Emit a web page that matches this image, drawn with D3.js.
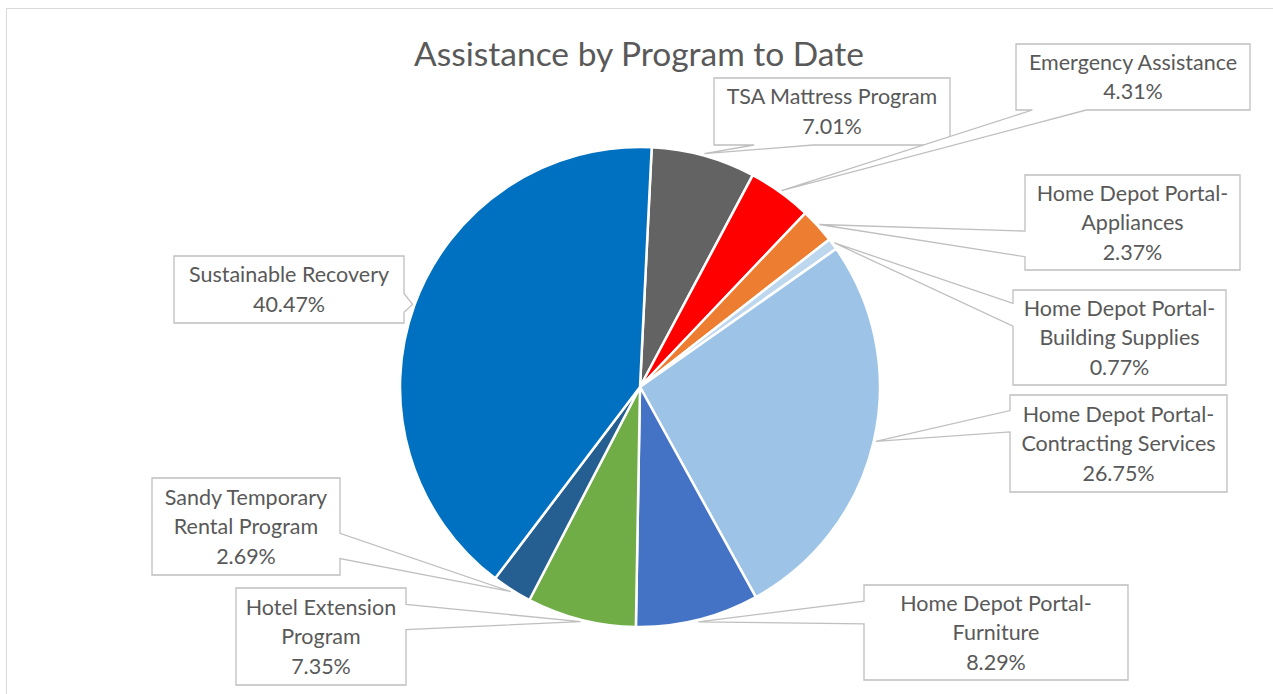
<!DOCTYPE html>
<html>
<head>
<meta charset="utf-8">
<script src="https://cdn.jsdelivr.net/npm/d3@7"></script>
<style>
  html, body { margin: 0; padding: 0; background: #fff; }
  svg { display: block; }
  text { font-family: Lato, "Open Sans", sans-serif; fill: #595959; }
</style>
</head>
<body>
<svg id="chart" width="1273" height="694"></svg>
<script>
// ---------- data ----------
const categories = [
  "TSA Mattress Program",
  "Emergency Assistance",
  "Home Depot Portal-Appliances",
  "Home Depot Portal-Building Supplies",
  "Home Depot Portal-Contracting Services",
  "Home Depot Portal-Furniture",
  "Hotel Extension Program",
  "Sandy Temporary Rental Program",
  "Sustainable Recovery"
];
const values = [7.01, 4.31, 2.37, 0.77, 26.75, 8.29, 7.35, 2.69, 40.47];
const labelLines = [
  ["TSA Mattress Program"],
  ["Emergency Assistance"],
  ["Home Depot Portal-", "Appliances"],
  ["Home Depot Portal-", "Building Supplies"],
  ["Home Depot Portal-", "Contracting Services"],
  ["Home Depot Portal-", "Furniture"],
  ["Hotel Extension", "Program"],
  ["Sandy Temporary", "Rental Program"],
  ["Sustainable Recovery"]
];
const colors = ["#636363", "#ff0000", "#ed7d31", "#bdd7ee", "#9dc3e6",
                "#4472c4", "#70ad47", "#255e91", "#0070c0"];
const title = "Assistance by Program to Date";

// ---------- layout (label boxes: x, y, w, h, side of pointer, pointer base fractions) ----------
const boxes = [
  {x: 714,  y: 78,  w: 236, h: 67, side: "bottom", f0: 0.17, f1: 0.42},
  {x: 1016, y: 44,  w: 234, h: 66, side: "bottom", f0: 0.07, f1: 0.30},
  {x: 1025, y: 175, w: 215, h: 95, side: "left",   f0: 0.59, f1: 0.86},
  {x: 1013, y: 290, w: 213, h: 95, side: "left",   f0: 0.14, f1: 0.38},
  {x: 1010, y: 395, w: 217, h: 97, side: "left",   f0: 0.16, f1: 0.38},
  {x: 864,  y: 585, w: 264, h: 95, side: "left",   f0: 0.17, f1: 0.41},
  {x: 236,  y: 588, w: 170, h: 97, side: "right",  f0: 0.17, f1: 0.43},
  {x: 152,  y: 478, w: 188, h: 97, side: "right",  f0: 0.57, f1: 0.83},
  {x: 174,  y: 256, w: 230, h: 67, side: "right",  f0: 0.56, f1: 0.84}
];

const W = 1273, H = 694;
const cx = 640, cy = 387, R = 240;
const rotation = 2.8 * Math.PI / 180;

const svg = d3.select("#chart");

// chart frame
svg.append("rect")
  .attr("x", 6.5).attr("y", 8.5)
  .attr("width", W + 20).attr("height", H + 20)
  .attr("fill", "none").attr("stroke", "#d9d9d9").attr("stroke-width", 1);

// title
svg.append("text")
  .attr("x", 639).attr("y", 66)
  .attr("text-anchor", "middle")
  .style("font-size", "33.5px")
  .text(title);

const data = categories.map((c, i) => ({name: c, value: values[i], i}));

const pie = d3.pie()
  .value(d => d.value)
  .sort(null)
  .startAngle(rotation)
  .endAngle(rotation + 2 * Math.PI);

const arcs = pie(data);
const arc = d3.arc().innerRadius(0).outerRadius(R);

const g = svg.append("g").attr("transform", `translate(${cx},${cy})`);
g.selectAll("path.slice")
  .data(arcs)
  .enter().append("path")
  .attr("class", "slice")
  .attr("d", arc)
  .attr("fill", d => colors[d.data.i])
  .attr("stroke", "#fff")
  .attr("stroke-width", 2.5)
  .attr("stroke-linejoin", "round");

// callout labels
const fmt = d3.format(".2f");
function calloutPath(b, tx, ty) {
  const {x, y, w, h, side, f0, f1} = b;
  const p = [];
  p.push([x, y]);
  if (side === "top") { p.push([x + f0 * w, y], [tx, ty], [x + f1 * w, y]); }
  p.push([x + w, y]);
  if (side === "right") { p.push([x + w, y + f0 * h], [tx, ty], [x + w, y + f1 * h]); }
  p.push([x + w, y + h]);
  if (side === "bottom") { p.push([x + f1 * w, y + h], [tx, ty], [x + f0 * w, y + h]); }
  p.push([x, y + h]);
  if (side === "left") { p.push([x, y + f1 * h], [tx, ty], [x, y + f0 * h]); }
  return "M" + p.map(q => q[0] + "," + q[1]).join("L") + "Z";
}

const lg = svg.append("g");
arcs.forEach(a => {
  const i = a.data.i;
  const b = boxes[i];
  const mid = (a.startAngle + a.endAngle) / 2;
  const rt = R + 2;
  const tx = cx + rt * Math.sin(mid);
  const ty = cy - rt * Math.cos(mid);
  lg.append("path")
    .attr("d", calloutPath(b, tx, ty))
    .attr("fill", "#fff")
    .attr("stroke", "#bfbfbf")
    .attr("stroke-width", 1.3)
    .attr("stroke-linejoin", "miter");
  const lines = labelLines[i].concat([fmt(a.data.value) + "%"]);
  const lh = 29.5;
  const midY = b.y + b.h / 2;
  lines.forEach((ln, k) => {
    lg.append("text")
      .attr("x", b.x + b.w / 2)
      .attr("y", midY + (k - (lines.length - 1) / 2) * lh)
      .attr("dy", "0.35em")
      .attr("text-anchor", "middle")
      .style("font-size", "21.5px")
      .text(ln);
  });
});
</script>
</body>
</html>
